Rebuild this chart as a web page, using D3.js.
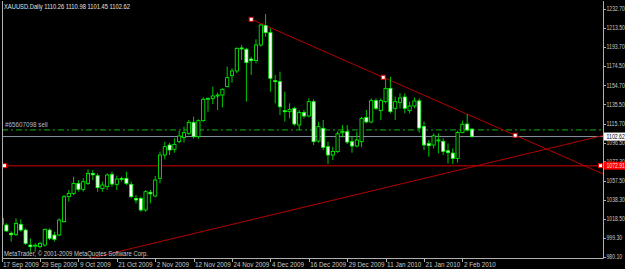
<!DOCTYPE html>
<html>
<head>
<meta charset="utf-8">
<script src="https://cdn.jsdelivr.net/npm/d3@7"></script>
<style>
body { margin: 0; background: #000; }
svg { display: block; }
text { font-family: "Liberation Sans Narrow", "Arial Narrow", "Liberation Sans", sans-serif; font-size: 6.3px; }
</style>
</head>
<body>
<svg id="chart"></svg>
<script>
// Taille de la fenetre et du cadre
const width = 625;
const height = 269;
const frameLeft = 2;
const frameRight = 603;
const frameTop = 1;
const frameBottom = 258;

// Donnees OHLC (XAUUSD daily, 17 Sep 2009 -> 4 Feb 2010)
const opens = [1019, 1012.4, 1004, 1002.9, 1013.1, 1007.3, 992, 990.8, 990.3, 992,
  1007.3, 1002.2, 1002.2, 1015.8, 1041.3, 1044.7, 1054.9, 1048.8, 1054.9, 1065.1,
  1062.7, 1049.8, 1051.5, 1064.1, 1053.9, 1060, 1060, 1053.9, 1039.6, 1039.6,
  1027.7, 1045.8, 1042, 1060, 1083.8, 1094, 1089.6, 1097.4, 1101.5, 1105.9,
  1117.1, 1102.5, 1118.8, 1140.6, 1141.6, 1144, 1145, 1153.5, 1164.7, 1169.5,
  1193, 1191.6, 1181.7, 1180, 1196, 1215.7, 1208.6, 1159.6, 1158.6, 1129,
  1128, 1131.4, 1114.4, 1127.3, 1123.6, 1138.2, 1098, 1111, 1092.3, 1083.8,
  1087.2, 1106.5, 1107.6, 1097.4, 1093, 1097.4, 1122, 1117.5, 1139.2, 1129,
  1138.2, 1151.8, 1131.4, 1137.5, 1143, 1129, 1133.8, 1139, 1113, 1095.5,
  1094, 1098.7, 1097.8, 1088.2, 1085.8, 1080.4, 1106.7, 1115.4, 1110.26];
const highs = [1024, 1014.1, 1006, 1019.2, 1018.2, 1009, 998.8, 993.7, 995.4, 1008.7,
  1009, 1005.6, 1019.2, 1043, 1048.1, 1061.7, 1058.3, 1060, 1069.2, 1068.5,
  1065.1, 1056.6, 1065.1, 1066.8, 1062.7, 1061.7, 1066.8, 1056.6, 1043, 1041.3,
  1048, 1048.1, 1062.4, 1087.2, 1097.4, 1096.4, 1100.8, 1108.6, 1112.7, 1119.5,
  1122.9, 1120.2, 1142.6, 1142.6, 1153.5, 1147.4, 1151.8, 1173.9, 1172.2, 1193.6,
  1196, 1193, 1184.1, 1201.8, 1217.4, 1227.6, 1213, 1165.4, 1168.8, 1148.4,
  1136.5, 1133, 1129.7, 1129.7, 1141.6, 1140.6, 1117.8, 1119.5, 1097.4, 1092.3,
  1108, 1114.4, 1114.4, 1102.5, 1107.6, 1122.9, 1129.7, 1141.6, 1141.6, 1141.6,
  1162, 1163.7, 1143.3, 1146.7, 1146.7, 1138.2, 1142.6, 1141.6, 1117.8, 1099.1,
  1105.9, 1105.9, 1100.8, 1095.7, 1090.6, 1108.6, 1118.8, 1125.6, 1110.98];
const lows = [1010, 1005.6, 995.4, 1001.2, 1005.6, 992, 985.2, 985.2, 988.6, 990.3,
  997.1, 995.4, 1001.2, 1014.8, 1036.2, 1043, 1046.4, 1046.4, 1053.2, 1058.3,
  1046.4, 1046.4, 1048.1, 1051.5, 1048.1, 1056.6, 1053.2, 1039.6, 1034.5, 1026,
  1026, 1034.5, 1040.6, 1054.9, 1079.4, 1083.8, 1086.2, 1095.7, 1096.4, 1104.2,
  1100.8, 1100.1, 1117.8, 1128, 1135.8, 1129.7, 1132.4, 1152.8, 1157.6, 1167.1,
  1180.7, 1138.2, 1165.4, 1177.3, 1194.3, 1204.5, 1148.4, 1136.5, 1124.6, 1117.8,
  1121.2, 1113.7, 1109.3, 1121.2, 1122.2, 1094, 1096.4, 1088.9, 1074.6, 1078.7,
  1086, 1101.8, 1095, 1086.2, 1091.6, 1091.6, 1116.1, 1116.1, 1129.7, 1119.5,
  1136.5, 1126.3, 1119.5, 1131.4, 1126.3, 1126.3, 1131.4, 1106.6, 1088.9, 1082.1,
  1090.6, 1085.5, 1083.8, 1075.3, 1074.6, 1076, 1105.9, 1107.6, 1101.45];
const closes = [1013, 1006.3, 1002.4, 1014.1, 1007.3, 993.7, 990.3, 991.9, 993.7, 1008,
  998.8, 997.8, 1017.5, 1041.3, 1044.7, 1054.9, 1048.8, 1056.6, 1065.1, 1063.6,
  1050.5, 1053.2, 1063.4, 1054.2, 1059.3, 1059, 1054.9, 1041.3, 1037.9, 1027.7,
  1046.4, 1044.2, 1058.3, 1083.8, 1092.3, 1088.9, 1094.7, 1103.2, 1106.6, 1117.1,
  1102.5, 1118.8, 1140.6, 1141.6, 1144, 1145, 1150.8, 1162.7, 1169.5, 1192.6,
  1192, 1178, 1180, 1196, 1216.4, 1208.6, 1162, 1158.6, 1133, 1128,
  1130.4, 1115.4, 1127.3, 1123.6, 1138.2, 1097.4, 1112.7, 1091.6, 1083.8, 1087.5,
  1105.5, 1107.8, 1097, 1093, 1099.1, 1121.2, 1117.5, 1139.2, 1131.4, 1139.2,
  1151.8, 1128, 1138.2, 1142, 1131.4, 1133.8, 1138.9, 1111.3, 1094, 1093.3,
  1103.3, 1099.2, 1087.5, 1086.2, 1080.4, 1106.7, 1115.2, 1109.3, 1102.62];

// Etiquettes des axes
const dateLabels = ["17 Sep 2009", "29 Sep 2009", "9 Oct 2009", "21 Oct 2009", "2 Nov 2009",
  "12 Nov 2009", "24 Nov 2009", "4 Dec 2009", "16 Dec 2009", "29 Dec 2009",
  "11 Jan 2010", "21 Jan 2010", "2 Feb 2010"];
const dateIndex = [0, 8, 16, 24, 32, 40, 48, 56, 64, 72, 80, 88, 96];
const priceTicks = [1232.70, 1213.50, 1193.70, 1174.50, 1154.70, 1135.50, 1115.70,
  1096.50, 1077.30, 1057.50, 1038.30, 1018.50, 999.30, 980.10];

// Objets traces
const headerText = "XAUUSD.Daily  1110.26 1110.98 1101.45 1102.62";
const bidPrice = 1102.62;
const levelPrice = 1072.91;
const orderPrice = 1109.4;
const orderLabel = "#65607098 sell";
const trendDown = [[52, 1222.2], [107, 1103.9]];
const trendUp = [[18.8, 978.8], [100, 1074.0]];
const copyright = "MetaTrader, \u00a9 2001-2009 MetaQuotes Software Corp.";

// Echelles
const x = d3.scaleLinear().domain([0, 125]).range([1.6, 601.6]);
const y = d3.scaleLinear().domain([980.1, 1232.7]).range([256.7, 9]);

const svg = d3.select("#chart")
    .attr("width", width)
    .attr("height", height);

svg.append("rect")
    .attr("width", width)
    .attr("height", height)
    .attr("fill", "#000");

svg.append("clipPath")
    .attr("id", "plot")
    .append("rect")
    .attr("x", frameLeft)
    .attr("y", frameTop)
    .attr("width", frameRight - frameLeft)
    .attr("height", frameBottom - frameTop);

const plot = svg.append("g").attr("clip-path", "url(#plot)");

// Ligne d'ordre (dash-dot vert fonce)
plot.append("line")
    .attr("x1", frameLeft).attr("x2", frameRight)
    .attr("y1", y(orderPrice)).attr("y2", y(orderPrice))
    .attr("stroke", "#0a640a")
    .attr("stroke-width", 1.6)
    .attr("stroke-dasharray", "6,3,2,3");

plot.append("text")
    .attr("x", 5)
    .attr("y", y(orderPrice) - 2.5)
    .attr("fill", "#b8b8c8")
    .text(orderLabel);

// Ligne Bid
plot.append("line")
    .attr("x1", frameLeft).attr("x2", frameRight)
    .attr("y1", y(bidPrice)).attr("y2", y(bidPrice))
    .attr("stroke", "#8894a0")
    .attr("stroke-width", 1);

// Niveau horizontal rouge
plot.append("line")
    .attr("x1", frameLeft).attr("x2", frameRight)
    .attr("y1", y(levelPrice)).attr("y2", y(levelPrice))
    .attr("stroke", "#8c0000")
    .attr("stroke-width", 1.6);

// Lignes de tendance (rayons vers la droite)
function rayEnd(pts) {
    const iEnd = x.invert(frameRight + 2);
    const slope = (pts[1][1] - pts[0][1]) / (pts[1][0] - pts[0][0]);
    return [iEnd, pts[0][1] + slope * (iEnd - pts[0][0])];
}

[trendDown, trendUp].forEach(function(pts) {
    const end = rayEnd(pts);
    plot.append("line")
        .attr("x1", x(pts[0][0])).attr("y1", y(pts[0][1]))
        .attr("x2", x(end[0])).attr("y2", y(end[1]))
        .attr("stroke", "#b40000")
        .attr("stroke-width", 1);
});

// Bougies
const candles = plot.append("g")
    .selectAll("g")
    .data(d3.range(opens.length))
    .enter()
    .append("g");

candles.append("line")
    .attr("x1", d => x(d)).attr("x2", d => x(d))
    .attr("y1", d => y(highs[d]))
    .attr("y2", d => y(lows[d]))
    .attr("stroke", "#00c800")
    .attr("stroke-width", 1);

candles.append("rect")
    .attr("x", d => x(d) - 1.6)
    .attr("width", 3.2)
    .attr("y", d => y(Math.max(opens[d], closes[d])))
    .attr("height", d => Math.max(1, Math.abs(y(opens[d]) - y(closes[d]))))
    .attr("fill", d => closes[d] >= opens[d] ? "#000" : "#fff")
    .attr("stroke", "#00ff00")
    .attr("stroke-width", 0.8);

// Points de selection
const markers = [
    [x(trendDown[0][0]), y(trendDown[0][1])],
    [x((trendDown[0][0] + trendDown[1][0]) / 2), y((trendDown[0][1] + trendDown[1][1]) / 2)],
    [x(trendDown[1][0]), y(trendDown[1][1])],
    [frameLeft + 2.5, y(levelPrice)],
    [frameRight - 2.5, y(levelPrice)]
];
plot.selectAll("rect.marker")
    .data(markers)
    .enter()
    .append("rect")
    .attr("class", "marker")
    .attr("x", d => d[0] - 2)
    .attr("y", d => d[1] - 2)
    .attr("width", 4)
    .attr("height", 4)
    .attr("fill", "#fff")
    .attr("stroke", "#e00000")
    .attr("stroke-width", 1);

// Cadre
svg.append("path")
    .attr("d", `M${frameLeft + 0.5},${frameTop} V${frameBottom + 0.5} H${frameRight + 0.5} V${frameTop}`)
    .attr("fill", "none")
    .attr("stroke", "#b0b0b0")
    .attr("stroke-width", 1);

// Largeur des etiquettes de prix (police etroite)
const priceLabelWidth = s => s.length * 2.62;

// Axe des prix (droite)
const yAxis = svg.append("g");
yAxis.selectAll("line")
    .data(priceTicks)
    .enter()
    .append("line")
    .attr("x1", frameRight + 0.5).attr("x2", frameRight + 3)
    .attr("y1", d => Math.round(y(d)) + 0.5)
    .attr("y2", d => Math.round(y(d)) + 0.5)
    .attr("stroke", "#b0b0b0");
yAxis.selectAll("text")
    .data(priceTicks)
    .enter()
    .append("text")
    .attr("x", frameRight + 3.5)
    .attr("y", d => y(d))
    .attr("dy", "0.35em")
    .attr("fill", "#c8c8c8")
    .attr("textLength", d => priceLabelWidth(d3.format(".2f")(d)))
    .attr("lengthAdjust", "spacingAndGlyphs")
    .text(d => d3.format(".2f")(d));

// Etiquettes de prix
function priceBox(p, bg, fg) {
    const label = d3.format(".2f")(p);
    svg.append("rect")
        .attr("x", frameRight + 1)
        .attr("y", y(p) - 4)
        .attr("width", width - frameRight - 1)
        .attr("height", 8)
        .attr("fill", bg);
    svg.append("text")
        .attr("x", frameRight + 3.5)
        .attr("y", y(p))
        .attr("dy", "0.35em")
        .attr("fill", fg)
        .attr("textLength", priceLabelWidth(label))
        .attr("lengthAdjust", "spacingAndGlyphs")
        .text(label);
}
priceBox(bidPrice, "#ffffff", "#000000");
priceBox(levelPrice, "#ff0000", "#ffe0e0");

// Axe du temps (bas)
const xAxis = svg.append("g");
xAxis.selectAll("line")
    .data(dateIndex)
    .enter()
    .append("line")
    .attr("x1", d => Math.round(x(d)) + 0.5)
    .attr("x2", d => Math.round(x(d)) + 0.5)
    .attr("y1", frameBottom)
    .attr("y2", frameBottom + 4)
    .attr("stroke", "#b0b0b0");
xAxis.selectAll("text")
    .data(dateIndex)
    .enter()
    .append("text")
    .attr("x", d => x(d) + 1.5)
    .attr("y", 266.5)
    .attr("fill", "#c8c8c8")
    .text((d, i) => dateLabels[i]);

// Textes
svg.append("text")
    .attr("x", 4)
    .attr("y", 9)
    .attr("fill", "#e0e0e0")
    .attr("textLength", 126)
    .attr("lengthAdjust", "spacingAndGlyphs")
    .text(headerText);

svg.append("text")
    .attr("x", 4)
    .attr("y", 255.5)
    .attr("fill", "#c8c8c8")
    .attr("textLength", 144)
    .attr("lengthAdjust", "spacingAndGlyphs")
    .text(copyright);
</script>
</body>
</html>
